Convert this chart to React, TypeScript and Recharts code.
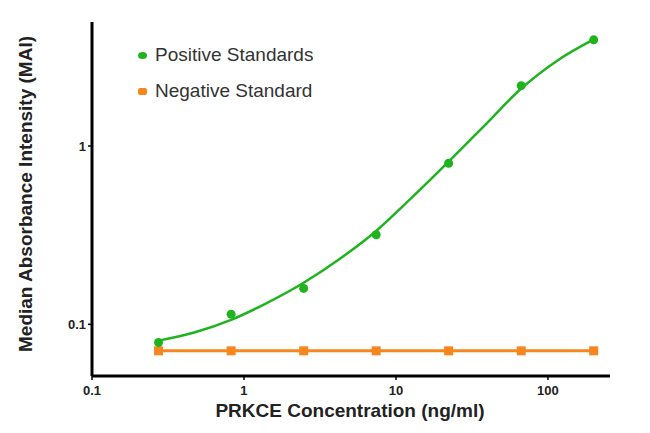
import { ComposedChart, Line, Scatter, XAxis, YAxis } from 'recharts';

const GREEN = '#1fb41f';
const ORANGE = '#f7861f';

// 3-fold dilution series (ng/ml)
const concentrations = [0.274, 0.823, 2.47, 7.41, 22.2, 66.7, 200];
const positiveMAI = [0.079, 0.114, 0.159, 0.318, 0.8, 2.18, 3.94];
const negativeMAI = [0.071, 0.071, 0.071, 0.071, 0.071, 0.071, 0.071];

// fitted curve
const curveX = [0.274, 0.47, 0.823, 1.4, 2.47, 4.3, 7.41, 12.7, 22.2, 38.5, 66.7, 115, 200];
const curveY = [0.081, 0.09, 0.106, 0.131, 0.171, 0.234, 0.334, 0.513, 0.817, 1.31, 2.1, 3.01, 3.96];

const xTicks = [0.1, 1, 10, 100];
const yTicks = [0.1, 1];

const positiveData = concentrations.map((x, i) => ({ x, y: positiveMAI[i] }));
const negativeData = concentrations.map((x, i) => ({ x, y: negativeMAI[i] }));
const curveData = curveX.map((x, i) => ({ x, y: curveY[i] }));

const FONT = '"Liberation Sans", Arial, sans-serif';

const SquareDot = (props: any) => {
  const { cx, cy } = props;
  if (cx == null || cy == null) return null;
  return <rect x={cx - 4.5} y={cy - 4.5} width={9} height={9} fill={ORANGE} />;
};

const legendItems = [
  { name: 'Positive Standards', color: GREEN, radius: '50%' },
  { name: 'Negative Standard', color: ORANGE, radius: '2px' },
];

export default function App() {
  return (
    <div style={{ position: 'absolute', left: 0, top: 0, width: 650, height: 433, background: '#fff' }}>
      <ComposedChart width={650} height={433} margin={{ top: 22, right: 40, bottom: 0, left: 0 }}>
        <XAxis
          type="number"
          dataKey="x"
          scale="log"
          domain={[0.1, 256]}
          ticks={xTicks}
          allowDataOverflow
          height={57}
          axisLine={{ stroke: '#000', strokeWidth: 3 }}
          tickLine={{ stroke: '#000', strokeWidth: 1.5 }}
          tickSize={4}
          tickMargin={6}
          tick={{ fontSize: 13, fontWeight: 700, fill: '#222', fontFamily: FONT }}
          label={(props: any) => {
            const vb = props.viewBox;
            return (
              <text
                x={350}
                y={vb.y + 34}
                textAnchor="middle"
                dominantBaseline="central"
                style={{ fontSize: 19, fontWeight: 700, fill: '#222', fontFamily: FONT }}
              >
                PRKCE Concentration (ng/ml)
              </text>
            );
          }}
        />
        <YAxis
          type="number"
          dataKey="y"
          scale="log"
          domain={[0.0513, 4.96]}
          ticks={yTicks}
          allowDataOverflow
          width={92}
          axisLine={{ stroke: '#000', strokeWidth: 3 }}
          tickLine={{ stroke: '#000', strokeWidth: 1.5 }}
          tickSize={4}
          tickMargin={2}
          tick={{ fontSize: 13, fontWeight: 700, fill: '#222', fontFamily: FONT }}
          label={(props: any) => {
            const vb = props.viewBox;
            const cy = vb.y + vb.height / 2 - 5;
            return (
              <text
                x={25}
                y={cy}
                transform={`rotate(-90 25 ${cy})`}
                textAnchor="middle"
                dominantBaseline="central"
                style={{ fontSize: 19, fontWeight: 700, fill: '#222', fontFamily: FONT }}
              >
                Median Absorbance Intensity (MAI)
              </text>
            );
          }}
        />
        <Line
          data={curveData}
          dataKey="y"
          type="monotone"
          stroke={GREEN}
          strokeWidth={2.5}
          dot={false}
          isAnimationActive={false}
        />
        <Line
          data={negativeData}
          dataKey="y"
          type="linear"
          stroke={ORANGE}
          strokeWidth={3}
          dot={<SquareDot />}
          isAnimationActive={false}
        />
        <Scatter data={positiveData} dataKey="y" fill={GREEN} isAnimationActive={false} shape="circle" />
      </ComposedChart>
      <div style={{ position: 'absolute', left: 138, top: 43, fontFamily: FONT, fontSize: 19, color: '#333' }}>
        {legendItems.map((item, i) => (
          <div key={item.name} style={{ display: 'flex', alignItems: 'center', height: 24, marginTop: i ? 12 : 0 }}>
            <span
              style={{ width: 9, height: 7, borderRadius: item.radius, background: item.color, marginRight: 8 }}
            />
            {item.name}
          </div>
        ))}
      </div>
    </div>
  );
}
